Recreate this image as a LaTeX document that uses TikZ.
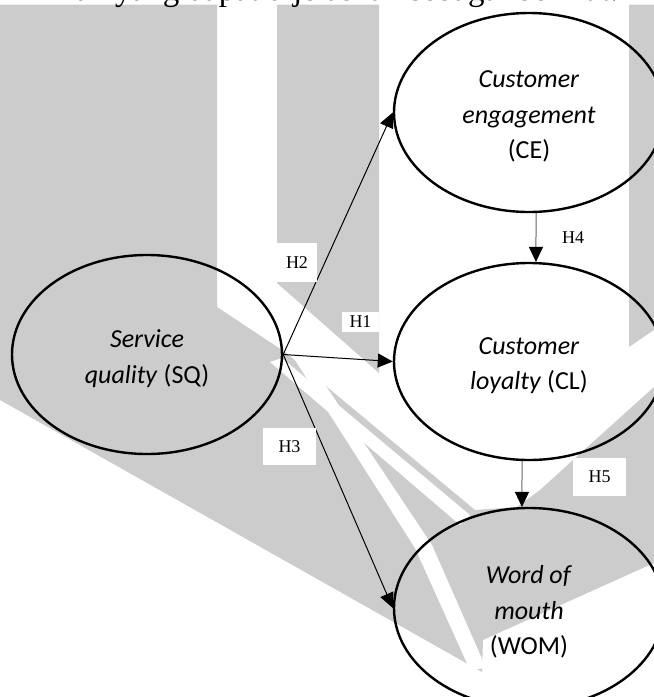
\documentclass[tikz,border=0pt]{standalone}
\usepackage{fontspec}
\setmainfont{Carlito}
\newfontfamily\labelfont{Liberation Serif}
\usetikzlibrary{shapes.geometric,arrows.meta}

\definecolor{emblemgrey}{HTML}{CCCCCC}

\tikzset{
  construct/.style={ellipse, draw=black, line width=2.4pt, inner sep=0pt,
    minimum width=270pt},
  caption/.style={align=center, inner sep=0pt, yshift=-4pt,
    font=\fontsize{26}{35.5}\selectfont},
  link/.style={line width=1pt, -{Triangle[length=15pt,width=14pt]}},
  greylink/.style={line width=1pt, draw=black!60,
    -{Triangle[length=15pt,width=14pt,color=black]}},
  hyp/.style={fill=white, inner sep=0pt, font=\labelfont\fontsize{18}{18}\selectfont},
  bodytext/.style={inner sep=0pt, font=\labelfont\fontsize{33}{33}\selectfont},
  emblem/.style={fill=emblemgrey}
}

\begin{document}
\begin{tikzpicture}[x=1pt,y=-1pt]
  \useasboundingbox (0,0) rectangle (654,697);
  \clip (0,0) rectangle (654,697);

  % background emblem: bars at the top, bending into a V of stripes
  \fill[emblem] (0,4.5) -- (217,4.5) -- (217,307) -- (285,352) -- (475,510)
              -- (517,507) -- (540,490) -- (573,460) -- (654,387)
              -- (654,563) -- (483,640) -- (482,672) -- (0,400) -- cycle;
  \fill[emblem] (277,4.5) -- (379,4.5) -- (379,373) -- (277,283) -- cycle;
  \fill[emblem] (629,4.5) -- (654,4.5) -- (654,330) -- (629,347) -- cycle;
  \fill[white] (270,362) -- (282,358) -- (470,515) -- (460,525) -- cycle;
  \fill[white] (295,360) -- (310,362) -- (432,545) -- (486,668)
              -- (470,670) -- (415,548) -- cycle;

  % running text of the page above the figure
  \node[bodytext, anchor=base east] (prev) at (107,0) {kerangka pemikiran};
  \node[bodytext, anchor=base west] (line) at (115,0) {yang dapat dijelaskan sebagai berikut.};

  % constructs
  \node[construct, minimum height=199pt,
        label={[caption]center:\textit{Service}\\\textit{quality} (SQ)}] (sq) at (147,354.5) {};
  \node[construct, minimum height=199pt,
        label={[caption]center:\textit{Customer}\\\textit{engagement}\\(CE)}] (ce) at (529,112.5) {};
  \node[construct, minimum height=197pt,
        label={[caption]center:\textit{Customer}\\\textit{loyalty} (CL)}] (cl) at (529,361.5) {};
  \node[construct, minimum height=200pt,
        label={[caption]center:\textit{Word of}\\\textit{mouth}\\(WOM)}] (wom) at (529,608) {};

  % hypothesised paths
  \draw[link] (sq.east) -- (ce.west);
  \draw[link] (sq.east) -- (cl.west);
  \draw[link] (sq.east) -- (wom.west);
  \draw[greylink] (ce.-86) -- (cl.86);
  \draw[greylink] (cl.-94) -- (wom.94);

  % hypothesis labels
  \node[hyp, minimum width=40pt, minimum height=39pt] (h2) at (297,262.5) {H2};
  \node[hyp, minimum width=37pt, minimum height=20pt] (h1) at (360.5,322) {H1};
  \node[hyp, minimum width=53pt, minimum height=37pt] (h3) at (289.5,446.5) {H3};
  \node[hyp] (h4) at (573,238) {H4};
  \node[hyp, minimum width=53pt, minimum height=38pt] (h5) at (599.5,477) {H5};
\end{tikzpicture}
\end{document}
